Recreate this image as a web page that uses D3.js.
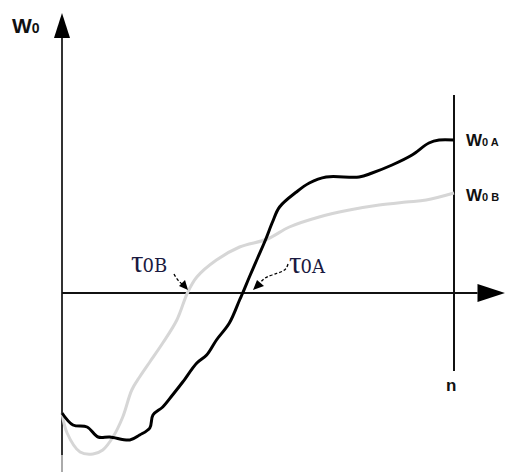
<!DOCTYPE html>
<html><head><meta charset="utf-8">
<script src="https://cdn.jsdelivr.net/npm/d3@7"></script>
<style>html,body{margin:0;padding:0;background:#fff;}svg{display:block;}</style>
</head><body>
<svg id="c" width="509" height="472"></svg>
<script>
// Curve A (black): n, W0
const nA = [0,2.8,6.4,9.2,12.2,17.3,19.8,22.4,23.2,25.7,28.2,30.8,34.4,36.9,39.4,42.7,45.3,46.1,47.8,49.9,51.9,53.7,55.5,59.8,63.1,67.4,75.8,79.1,84.2,89.3,93.6,96.2,100];
const wA = [-120,-132,-134,-144,-144,-147,-142,-135,-122,-114,-102,-89,-70,-62,-47,-30,-7,0,16,35,53,71,86,101,110,116,116,120,128,138,150,153,153];
// Curve B (gray)
const nB = [0,1.3,4.6,7.9,10.4,13,15.5,17.8,19.8,22.4,25.7,29.3,32.1,34.4,39.4,45.3,52.4,58,65.6,73.3,80.9,87.8,92.9,100];
const wB = [-120,-140,-159,-161,-157,-144,-124,-97,-84,-69,-50,-27,1,16,33,46,54,66,76,83,88,91,93,100];
const labels = {yAxis:"W", xAxis:"n", a:"W", b:"W", tauA:"τ", tauB:"τ"};

const svg = d3.select("#c");
const x = d3.scaleLinear().domain([0,100]).range([62,454]);
const y = d3.scaleLinear().domain([-180,280]).range([473,13]);

// y axis
svg.append("line").attr("x1",x(0)).attr("x2",x(0)).attr("y1",y(258)).attr("y2",y(-162))
  .attr("stroke","#333").attr("stroke-width",2);
svg.append("line").attr("x1",x(0)).attr("x2",x(0)).attr("y1",y(-162)).attr("y2",472)
  .attr("stroke","#aaa").attr("stroke-width",2);
svg.append("path").attr("d",`M${x(0)},${y(280)} L${x(0)-8},${y(255)} L${x(0)+8},${y(255)} Z`).attr("fill","#000");
// x axis
svg.append("line").attr("x1",x(0)).attr("x2",x(106)).attr("y1",y(0)).attr("y2",y(0))
  .attr("stroke","#111").attr("stroke-width",2);
svg.append("path").attr("d",`M${x(113)},${y(0)} L${x(106)},${y(0)-9} L${x(106)},${y(0)+9} Z`).attr("fill","#000");
// vertical line at n end
svg.append("line").attr("x1",x(100)).attr("x2",x(100)).attr("y1",y(198)).attr("y2",y(-78))
  .attr("stroke","#111").attr("stroke-width",2);

const line = d3.line().x(d=>x(d[0])).y(d=>y(d[1])).curve(d3.curveCatmullRom.alpha(0.5));
svg.append("path").datum(nB.map((n,i)=>[n,wB[i]])).attr("d",line)
  .attr("fill","none").attr("stroke","#d6d6d6").attr("stroke-width",3).attr("stroke-linejoin","round");
svg.append("path").datum(nA.map((n,i)=>[n,wA[i]])).attr("d",line)
  .attr("fill","none").attr("stroke","#000").attr("stroke-width",3).attr("stroke-linejoin","round");

// labels
const bold = "Liberation Sans, Arial, sans-serif";
let t = svg.append("text").attr("x",12).attr("y",33).attr("font-family",bold).attr("font-weight","bold").attr("font-size",21).attr("fill","#111");
t.append("tspan").text(labels.yAxis);
t.append("tspan").attr("font-size",14).text("0");

t = svg.append("text").attr("x",466).attr("y",146).attr("font-family",bold).attr("font-weight","bold").attr("font-size",17).attr("fill","#111");
t.append("tspan").text(labels.a);
t.append("tspan").attr("font-size",11).attr("dx",0).text("0 A");
t = svg.append("text").attr("x",466).attr("y",201).attr("font-family",bold).attr("font-weight","bold").attr("font-size",17).attr("fill","#111");
t.append("tspan").text(labels.b);
t.append("tspan").attr("font-size",11).text("0 B");

svg.append("text").attr("x",446).attr("y",391).attr("font-family",bold).attr("font-weight","bold").attr("font-size",17).attr("fill","#111").text(labels.xAxis);

const serif = "DejaVu Serif, Liberation Serif, serif";
t = svg.append("text").attr("x",131).attr("y",272).attr("font-family","Liberation Serif, serif").attr("fill","#1a1a40");
t.append("tspan").attr("font-size",31).text(labels.tauB);
t.append("tspan").attr("font-size",18).attr("font-family",serif).attr("dx",-1).text("0B");
t = svg.append("text").attr("x",289).attr("y",273).attr("font-family","Liberation Serif, serif").attr("fill","#1a1a40");
t.append("tspan").attr("font-size",31).text(labels.tauA);
t.append("tspan").attr("font-size",18).attr("font-family",serif).attr("dx",-1).text("0A");

// annotation arrows
svg.append("path").attr("d","M174,274 Q177,280 182,284").attr("fill","none").attr("stroke","#000").attr("stroke-width",1.3).attr("stroke-dasharray","3,2");
svg.append("path").attr("d","M188,290 L179,286 L185,280 Z").attr("fill","#000");
svg.append("path").attr("d","M288,264 C286,272 280,272 272,275 C266,277 263,279 260,283").attr("fill","none").attr("stroke","#000").attr("stroke-width",1.3).attr("stroke-dasharray","3,2");
svg.append("path").attr("d","M253,290 L257,280 L264,286 Z").attr("fill","#000");
</script>
</body></html>
